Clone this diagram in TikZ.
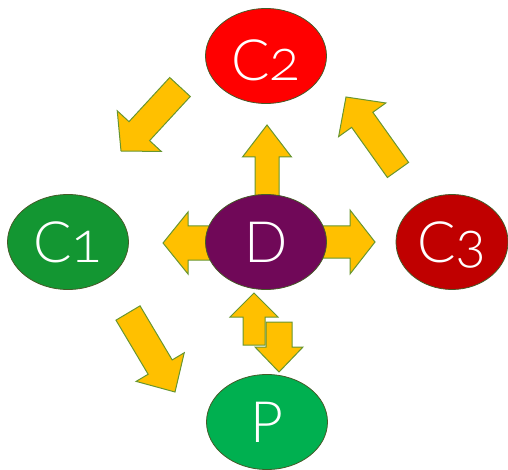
\documentclass[tikz,border=0pt]{standalone}
\usepackage{fontspec}
\setmainfont{Lato Light}[Numbers=OldStyle]
\usetikzlibrary{shapes.geometric,calc}
\definecolor{arrfill}{RGB}{255,192,0}
\definecolor{arrline}{RGB}{104,150,48}
\definecolor{edgecol}{RGB}{70,90,40}
\definecolor{cred}{RGB}{255,0,0}
\definecolor{cdark}{RGB}{192,0,0}
\definecolor{dpurple}{RGB}{112,8,88}
\definecolor{cgreen}{RGB}{19,150,50}
\definecolor{pgreen}{RGB}{0,176,80}
\tikzset{
  barrow/.style={fill=arrfill, draw=arrline, line width=1pt, line join=miter},
  blob/.style={ellipse, draw=edgecol, line width=0.8pt, inner sep=0pt,
    minimum width=121pt, minimum height=95pt, text=white,
    font=\fontsize{57}{57}\selectfont, text height=41pt, text depth=0pt},
}
\newcommand{\blockarr}[5]{% tail, tip, shaft hw, head hw, head length
  \coordinate (ba-h) at ($#2!#5!#1$);
  \draw[barrow] ($#1!#3!90:#2$) -- ($(ba-h)!#3!90:#2$) -- ($(ba-h)!#4!90:#2$)
    -- #2 -- ($(ba-h)!#4!-90:#2$) -- ($(ba-h)!#3!-90:#2$) -- ($#1!#3!-90:#2$) -- cycle;
}
\begin{document}
\begin{tikzpicture}[x=1pt,y=-1pt]
\useasboundingbox (0,0) rectangle (508,470);
% arrow end points
\coordinate (upT) at (267,205);   \coordinate (upH) at (267,125);
\coordinate (lfT) at (230,243);   \coordinate (lfH) at (163,243);
\coordinate (rtT) at (300,242);   \coordinate (rtH) at (375,242);
\coordinate (aT) at (180,87);     \coordinate (aH) at (121,151);
\coordinate (bT) at (398,170);    \coordinate (bH) at (346,97);
\coordinate (cT) at (128,313);    \coordinate (cH) at (175,392);
\coordinate (dT) at (254,345);    \coordinate (dH) at (254,293);
\coordinate (eT) at (279,322);    \coordinate (eH) at (279,372);
% block arrows
\blockarr{(upT)}{(upH)}{12pt}{24.5pt}{32pt}
\blockarr{(lfT)}{(lfH)}{17pt}{31pt}{25pt}
\blockarr{(rtT)}{(rtH)}{16pt}{32pt}{25pt}
\blockarr{(aT)}{(aH)}{14pt}{30pt}{27pt}
\blockarr{(bT)}{(bH)}{13pt}{29pt}{28pt}
\blockarr{(cT)}{(cH)}{14pt}{28pt}{29pt}
\blockarr{(dT)}{(dH)}{11pt}{24pt}{24pt}
\blockarr{(eT)}{(eH)}{13pt}{24pt}{25pt}
% ellipses
\node[blob, fill=cred]    (c2) at (266,56)  {\raisebox{-4pt}{C2}};
\node[blob, fill=cgreen]  (c1) at (68,242)  {C1};
\node[blob, fill=dpurple] (d)  at (266,242) {D};
\node[blob, fill=cdark, minimum width=112pt] (c3) at (452,242) {C3};
\node[blob, fill=pgreen]  (p)  at (267,422) {P};
\end{tikzpicture}
\end{document}
